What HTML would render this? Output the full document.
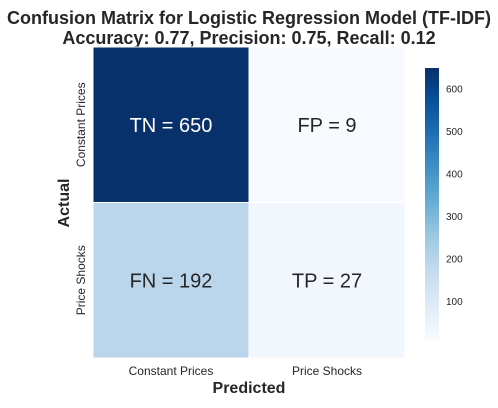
<!DOCTYPE html>
<html><head><meta charset="utf-8"><style>
body{margin:0;background:#fff;font-family:"Liberation Sans",Arial,sans-serif}
</style></head><body>
<svg id="c" width="498" height="403" xmlns="http://www.w3.org/2000/svg">
<defs><linearGradient id="g" x1="0" y1="1" x2="0" y2="0">
<stop offset="0" stop-color="#f7fbff"/><stop offset="0.125" stop-color="#deebf7"/><stop offset="0.25" stop-color="#c6dbef"/><stop offset="0.375" stop-color="#9ecae1"/><stop offset="0.5" stop-color="#6baed6"/><stop offset="0.625" stop-color="#4292c6"/><stop offset="0.75" stop-color="#2171b5"/><stop offset="0.875" stop-color="#08519c"/><stop offset="1" stop-color="#08306b"/></linearGradient></defs>
<text x="249" y="24" text-anchor="middle" font-size="18" font-weight="bold" fill="#262626">Confusion Matrix for Logistic Regression Model (TF-IDF)</text>
<text x="249" y="44" text-anchor="middle" font-size="18" font-weight="bold" fill="#262626">Accuracy: 0.77, Precision: 0.75, Recall: 0.12</text>
<g id="cells"></g>
<rect x="425" y="68" width="14" height="272" fill="url(#g)"/>
<g id="cbt"></g>
<text x="249" y="393" text-anchor="middle" font-size="16" font-weight="bold" fill="#262626">Predicted</text>
<text transform="translate(69,203) rotate(-90)" text-anchor="middle" font-size="16" font-weight="bold" fill="#262626">Actual</text>
</svg>
<script>
const labels=["Constant Prices","Price Shocks"];
const cellNames=[["TN","FP"],["FN","TP"]];
const values=[[650,9],[192,27]];
const ticks=[100,200,300,400,500,600];
const vmin=9,vmax=650;
const NS="http://www.w3.org/2000/svg";
const x0=93,y0=47,cw=156,ch=155.5;
const stops=[[0,[247,251,255]],[0.125,[222,235,247]],[0.25,[198,219,239]],[0.375,[158,202,225]],[0.5,[107,174,214]],[0.625,[66,146,198]],[0.75,[33,113,181]],[0.875,[8,81,156]],[1,[8,48,107]]];
function color(v){let t=(v-vmin)/(vmax-vmin);t=Math.max(0,Math.min(1,t));for(let i=1;i<stops.length;i++){if(t<=stops[i][0]){const a=stops[i-1],b=stops[i],f=(t-a[0])/(b[0]-a[0]);const c=a[1].map((x,k)=>Math.round(x+(b[1][k]-x)*f));return `rgb(${c})`;}}return "rgb(8,48,107)";}
function cbY(v){return 340-(v-vmin)/(vmax-vmin)*272;}
const g=document.getElementById('cells');
function mk(tag,at,p){const e=document.createElementNS(NS,tag);for(const k in at)e.setAttribute(k,at[k]);p.appendChild(e);return e;}
for(let r=0;r<2;r++)for(let c=0;c<2;c++){
 const v=values[r][c];
 const rc=mk('rect',{x:x0+c*cw,y:y0+r*ch,width:cw,height:ch,fill:color(v),stroke:'#fff','stroke-width':1},g);
 
 
 const t=mk('text',{x:x0+c*cw+cw/2,y:y0+r*ch+ch/2+7,'text-anchor':'middle','font-size':20,fill:(v-vmin)/(vmax-vmin)>0.5?'#fff':'#262626'},g);
 t.textContent=cellNames[r][c]+' = '+v;
 
 
}
for(let i=0;i<2;i++){
 const t=mk('text',{x:x0+i*cw+cw/2,y:375,'text-anchor':'middle','font-size':12,fill:'#262626'},g);
 t.textContent=labels[i];
 
 
 const cy=y0+i*ch+ch/2;
 const u=mk('text',{transform:`translate(85,${cy}) rotate(-90)`,'text-anchor':'middle','font-size':12,fill:'#262626'},g);
 u.textContent=labels[i];
 
 
}
const cb=document.getElementById('cbt');
ticks.forEach(v=>{const t=mk('text',{x:446,y:cbY(v)+3.5,'font-size':10,fill:'#262626'},cb);t.textContent=v;
 
 });
</script>
</body></html>
